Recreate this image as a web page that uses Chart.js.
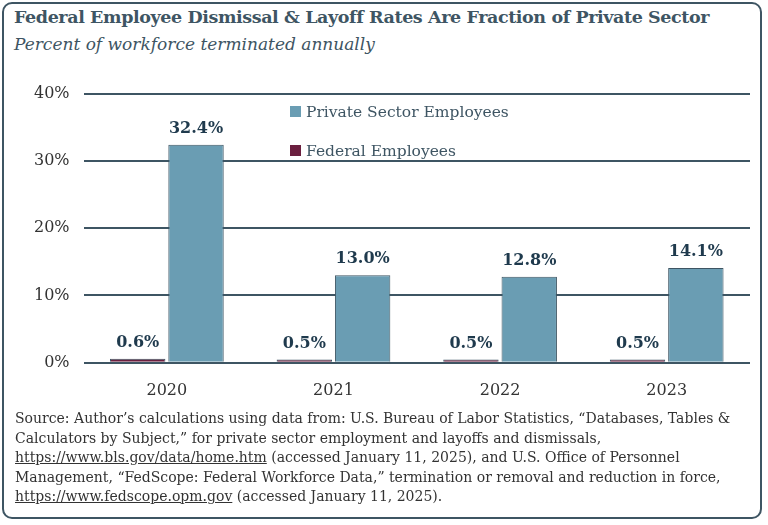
<!DOCTYPE html>
<html><head><meta charset="utf-8">
<script src="https://cdn.jsdelivr.net/npm/chart.js@4"></script>
<style>
  body{margin:0;background:#fff;font-family:"DejaVu Serif",serif;}
  #frame{position:absolute;left:2px;top:2px;width:760px;height:517px;border:2px solid #3e5563;border-radius:10px;box-sizing:border-box;}
  #title{position:absolute;left:14px;top:7px;font-size:17.5px;letter-spacing:-0.4px;white-space:nowrap;font-weight:bold;color:#3e5563;}
  #sub{position:absolute;left:14px;top:34px;font-size:17px;font-style:italic;color:#3e5563;}
  #wrap{position:absolute;left:20px;top:70px;width:730px;height:340px;}
  .leg{position:absolute;font-size:15.5px;color:#3e5563;}
  .sw{display:inline-block;width:11px;height:11px;margin-right:5px;}
  #src{position:absolute;left:15px;top:409px;width:740px;font-size:14px;line-height:19.5px;color:#333;}
  #src a{color:#333;text-decoration:underline;}
</style></head><body>
<div id="frame"></div>
<div id="title">Federal Employee Dismissal &amp; Layoff Rates Are Fraction of Private Sector</div>
<div id="sub">Percent of workforce terminated annually</div>
<div id="wrap"><canvas id="c"></canvas></div>
<div class="leg" style="left:290px;top:103px"><span class="sw" style="background:#6a9db3"></span>Private Sector Employees</div>
<div class="leg" style="left:290px;top:142px"><span class="sw" style="background:#6b1f3f"></span>Federal Employees</div>
<div id="src">Source: Author’s calculations using data from: U.S. Bureau of Labor Statistics, “Databases, Tables &amp; Calculators by Subject,” for private sector employment and layoffs and dismissals, <a>https://www.bls.gov/data/home.htm</a> (accessed January 11, 2025), and U.S. Office of Personnel Management, “FedScope: Federal Workforce Data,” termination or removal and reduction in force, <a>https://www.fedscope.opm.gov</a> (accessed January 11, 2025).</div>
<script>
const years = ["2020", "2021", "2022", "2023"];
const federal = [0.6, 0.5, 0.5, 0.5];
const privateSector = [32.4, 13.0, 12.8, 14.1];
const yTicks = [0, 10, 20, 30, 40];

const valueLabels = {
  id: "valueLabels",
  afterDatasetsDraw(chart) {
    const ctx = chart.ctx;
    ctx.save();
    ctx.font = "bold 16px 'DejaVu Serif', serif";
    ctx.fillStyle = "#1f3a4d";
    ctx.textAlign = "center";
    ctx.textBaseline = "bottom";
    chart.data.datasets.forEach((ds, i) => {
      chart.getDatasetMeta(i).data.forEach((bar, j) => {
        ctx.fillText(ds.data[j].toFixed(1) + "%", bar.x, bar.y - 8);
      });
    });
    ctx.restore();
  }
};

new Chart(document.getElementById("c"), {
  type: "bar",
  data: { labels: years, datasets: [
    { label: "Federal Employees", data: federal, backgroundColor: "#6b1f3f", borderColor: "#3e5563", borderWidth: 1 },
    { label: "Private Sector Employees", data: privateSector, backgroundColor: "#6a9db3", borderColor: "#3e5563", borderWidth: 1 }
  ]},
  options: {
    responsive: true, maintainAspectRatio: false, animation: false,
    layout: { padding: { top: 8, right: 0 } },
    categoryPercentage: 0.7, barPercentage: 0.95,
    plugins: { legend: { display: false }, tooltip: { enabled: false } },
    scales: {
      x: { grid: { display: false }, border: { display: false },
           ticks: { padding: 10, color: "#333", font: { family: "DejaVu Serif", size: 16 } } },
      y: { min: 0, max: 40, afterBuildTicks: (s) => { s.ticks = yTicks.map(v => ({ value: v })); },
           grid: { color: "#3e5563", lineWidth: 2, drawTicks: false }, border: { display: false },
           ticks: { padding: 14, color: "#333", font: { family: "DejaVu Serif", size: 16 }, callback: v => v + "%" } }
    }
  },
  plugins: [valueLabels]
});
</script>
</body></html>
